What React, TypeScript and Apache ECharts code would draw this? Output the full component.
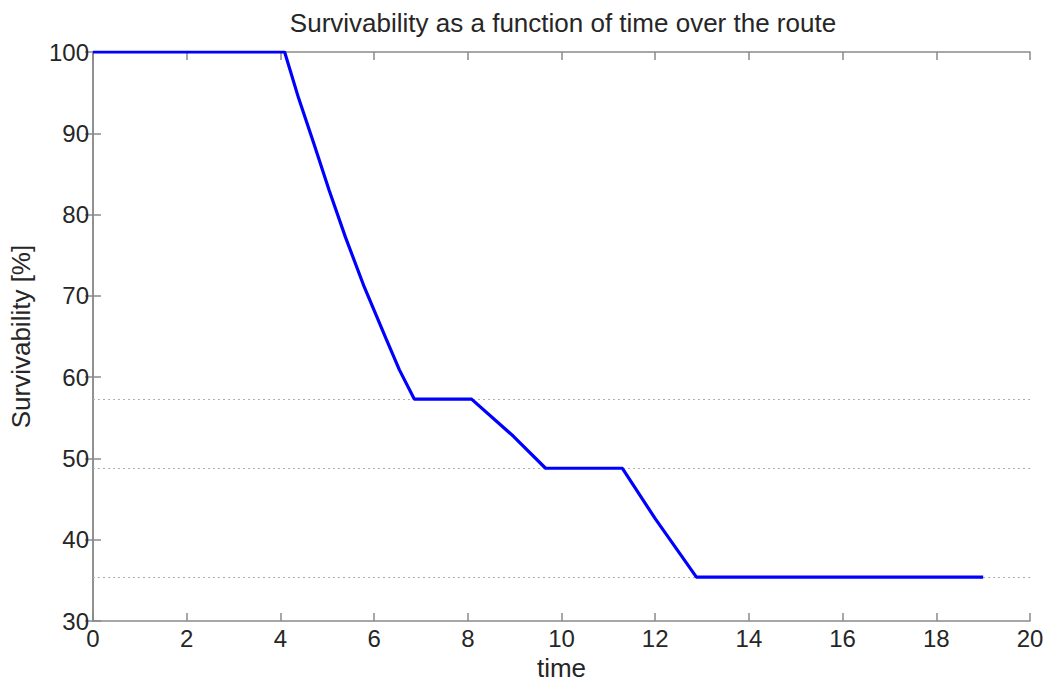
import React, { useEffect, useRef } from "react";
import * as echarts from "echarts";

const titleText = "Survivability as a function of time over the route";
const xName = "time";
const yName = "Survivability [%]";

const timeValues = [0, 4.09, 4.39, 4.71, 5.04, 5.39, 5.79, 6.25, 6.54, 6.86, 8.08, 8.98, 9.66, 11.3, 12.0, 12.88, 19.0];
const survivalValues = [100, 100, 94.3, 88.8, 83.0, 77.2, 71.1, 64.8, 60.9, 57.3, 57.3, 52.7, 48.8, 48.8, 42.6, 35.4, 35.4];
const plateauLevels = [57.3, 48.8, 35.4];

const xTicks = { min: 0, max: 20, interval: 2 };
const yTicks = { min: 30, max: 100, interval: 10 };

export default function App() {
  const ref = useRef<HTMLDivElement>(null);
  useEffect(() => {
    if (!ref.current) return;
    const chart = echarts.init(ref.current, null, { renderer: "svg" });
    const axisGray = "#8a8a8a";
    const textColor = "#262626";
    const font = "Liberation Sans, Arial, sans-serif";
    const baseAxis = {
      axisLine: { show: true, lineStyle: { color: axisGray, width: 1.5 } },
      axisTick: { show: true, inside: true, length: 8, lineStyle: { color: axisGray, width: 1.5 } },
      splitLine: { show: false },
    };
    chart.setOption({
      animation: false,
      backgroundColor: "#ffffff",
      title: {
        text: titleText,
        left: 558,
        textAlign: "center",
        top: 5,
        textStyle: { fontFamily: font, fontSize: 26, fontWeight: "normal", color: textColor },
      },
      grid: { left: 92, right: 21, top: 52, bottom: 56, containLabel: false },
      xAxis: [
        {
          type: "value",
          ...xTicks,
          position: "bottom",
          ...baseAxis,
          axisLabel: { fontFamily: font, fontSize: 24, color: textColor, margin: 5 },
          name: xName,
          nameLocation: "middle",
          nameGap: 30,
          nameTextStyle: { fontFamily: font, fontSize: 26, color: textColor },
        },
        {
          type: "value",
          ...xTicks,
          position: "top",
          ...baseAxis,
          axisLabel: { show: false },
        },
      ],
      yAxis: [
        {
          type: "value",
          ...yTicks,
          position: "left",
          ...baseAxis,
          axisLabel: { fontFamily: font, fontSize: 24, color: textColor, margin: 4 },
          name: yName,
          nameLocation: "middle",
          nameGap: 59,
          nameTextStyle: { fontFamily: font, fontSize: 26, color: textColor },
        },
        {
          type: "value",
          ...yTicks,
          position: "right",
          ...baseAxis,
          axisLabel: { show: false },
        },
      ],
      series: [
        {
          type: "line",
          data: timeValues.map((t, i) => [t, survivalValues[i]]),
          showSymbol: false,
          lineStyle: { color: "#0000ff", width: 3.2 },
          z: 5,
          markLine: {
            silent: true,
            symbol: "none",
            label: { show: false },
            lineStyle: { color: "#b0b0b0", type: [2, 3], width: 1 },
            data: plateauLevels.map((v) => ({ yAxis: v })),
          },
        },
      ],
    });
    return () => chart.dispose();
  }, []);
  return (
    <div
      ref={ref}
      style={{ position: "fixed", left: 0, top: 0, width: 1051, height: 686, background: "#fff" }}
    />
  );
}
